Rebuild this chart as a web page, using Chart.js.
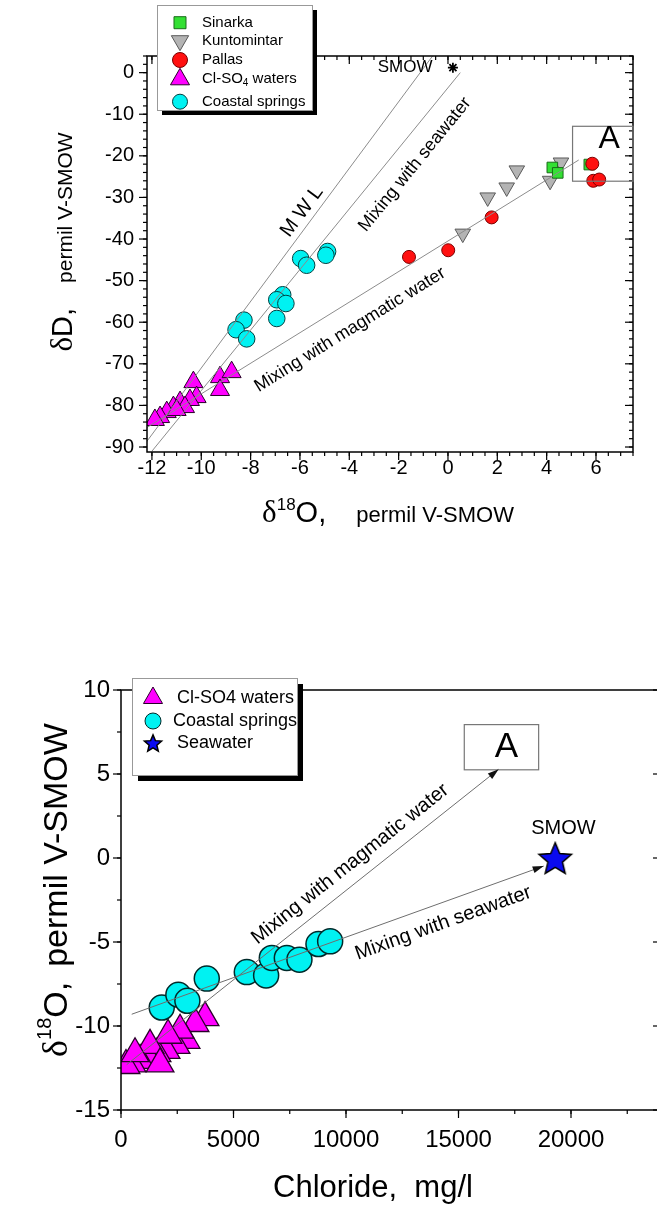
<!DOCTYPE html>
<html><head><meta charset="utf-8">
<script src="https://cdn.jsdelivr.net/npm/chart.js@4.4.0/dist/chart.umd.min.js"></script>
<style>
html,body{margin:0;padding:0;background:#fff;overflow:hidden;width:657px;height:1206px}
#c1{position:absolute;left:0;top:0}
#c2{position:absolute;left:0;top:600px}
</style></head><body>
<canvas id="c1" width="657" height="600"></canvas>
<canvas id="c2" width="690" height="606"></canvas>
<script>
// ---- top chart: dD vs d18O ----
const sinarkaO = [4.23, 4.45, 5.73];
const sinarkaD = [-22.8, -24.1, -22.1];
const kuntoO = [4.58, 4.14, 2.79, 2.38, 1.61, 0.60];
const kuntoD = [-21.6, -26.0, -23.5, -27.6, -30.0, -38.7];
const pallasO = [5.85, 5.89, 6.13, 1.77, 0.01, -1.58];
const pallasD = [-21.9, -26.0, -25.7, -34.8, -42.7, -44.3];
const clso4O = [-10.32, -10.19, -10.46, -9.24, -8.77, -9.24, -10.86, -11.13, -11.40, -11.67, -11.88, -10.66, -11.00];
const clso4D = [-74.4, -78.0, -78.7, -73.2, -72.0, -76.3, -79.2, -80.4, -81.6, -82.8, -83.5, -80.4, -81.1];
const coastO = [-5.97, -5.73, -4.88, -4.95, -6.70, -6.94, -6.57, -6.94, -8.27, -8.59, -8.16];
const coastD = [-44.7, -46.3, -43.0, -43.9, -53.4, -54.6, -55.5, -59.1, -59.5, -61.8, -64.0];
const smowO = [0.2], smowD = [1.2];
const mwlO = [-12.5, -0.625], mwlD = [-91, 4];
const seaO = [-12.0, 0.5], seaD = [-91, 0];
const magO = [-12.2, 5.3], magD = [-85.3, -21.0];
const topXTicks = [-12, -10, -8, -6, -4, -2, 0, 2, 4, 6];
const topYTicks = [0, -10, -20, -30, -40, -50, -60, -70, -80, -90];

// ---- bottom chart: d18O vs chloride ----
const botClCl = [3736, 3291, 2891, 2446, 2002, 1601, 1201, 845, 489, 222, 2624, 2090, 1290, 623, 1735];
const botClO = [-9.5, -9.85, -10.85, -11.15, -11.45, -11.65, -11.85, -12.05, -12.25, -12.35, -10.25, -10.55, -11.15, -11.65, -12.25];
const botCoastCl = [1810, 2549, 2950, 3812, 5591, 6450, 6703, 7370, 7931, 8776, 9296];
const botCoastO = [-8.9, -8.14, -8.5, -7.18, -6.79, -6.99, -5.95, -5.95, -6.05, -5.12, -4.96];
const seawaterCl = [19300], seawaterO = [0];
const botMagCl = [253, 16783], botMagO = [-12.3, 5.28];
const botSeaCl = [476, 18785], botSeaO = [-9.3, -0.48];
const botXTicks = [0, 5000, 10000, 15000, 20000];
const botYTicks = [-15, -10, -5, 0, 5, 10];

const FONT = 'Arial, "Liberation Sans", sans-serif';
Chart.defaults.font.family = FONT;
Chart.defaults.color = '#000';
Chart.defaults.animation = false;

const pts = (xs, ys) => xs.map((x, i) => ({x, y: ys[i]}));

function starCanvas(R, fill){
  const s = Math.ceil(R * 2 + 4), c = document.createElement('canvas');
  c.width = c.height = s;
  const g = c.getContext('2d');
  g.translate(s / 2, s / 2 + R * 0.1);
  g.beginPath();
  for(let i = 0; i < 10; i++){
    const r = i % 2 ? R * 0.45 : R, a = -Math.PI / 2 + i * Math.PI / 5;
    g.lineTo(r * Math.cos(a), r * Math.sin(a));
  }
  g.closePath(); g.fillStyle = fill; g.fill();
  g.lineWidth = 1.5; g.strokeStyle = '#000'; g.stroke();
  return c;
}
const starBig = starCanvas(17, '#0a0af0'), starSmall = starCanvas(9, '#0a0af0');

function marker(label, data, style, r, bg, bd, order, rot){
  return {label, data, pointStyle: style, pointRadius: r, pointHoverRadius: r, rotation: rot || 0,
    backgroundColor: bg, borderColor: bd, pointBorderWidth: 1, borderWidth: 1, showLine: false, order, clip: 0};
}
function guide(label, data, color, arrow){
  return {label, data, showLine: true, pointRadius: 0, borderColor: color, borderWidth: 1, order: 0, clip: 0, arrow};
}

function rich(ctx, parts, cx, cy, rot){
  ctx.save(); ctx.translate(cx, cy); ctx.rotate(rot || 0);
  ctx.textAlign = 'left'; ctx.textBaseline = 'alphabetic'; ctx.fillStyle = '#000';
  const f = p => p[1] + 'px ' + (p[3] || FONT);
  let w = 0;
  parts.forEach(p => { if(typeof p === 'number'){ w += p; return; } ctx.font = f(p); w += ctx.measureText(p[0]).width; });
  let x = -w / 2;
  parts.forEach(p => {
    if(typeof p === 'number'){ x += p; return; }
    ctx.font = f(p); ctx.fillText(p[0], x, -(p[2] || 0)); x += ctx.measureText(p[0]).width;
  });
  ctx.restore();
}
function rangeStep(a, b, st){ const r = []; for(let v = Math.ceil(a / st) * st; v <= b + 1e-9; v += st) r.push(+v.toFixed(6)); return r; }

const deco = {
  id: 'deco',
  afterDatasetsDraw(chart, args, o){
    const {ctx, chartArea: a, scales: {x: sx, y: sy}} = chart;
    ctx.save();
    ctx.strokeStyle = '#000'; ctx.lineWidth = 1.5;
    ctx.strokeRect(a.left, a.top, a.right - a.left, a.bottom - a.top);
    // tick marks
    ctx.lineWidth = 1.2;
    const seg = (x1, y1, x2, y2) => { ctx.beginPath(); ctx.moveTo(x1, y1); ctx.lineTo(x2, y2); ctx.stroke(); };
    [['x', o.ticks.x], ['y', o.ticks.y]].forEach(([ax, t]) => {
      const s = ax === 'x' ? sx : sy;
      [[rangeStep(s.min, s.max, t.minor), 4], [t.major, 8]].forEach(([vals, len]) => {
        vals.forEach(v => {
          const p = s.getPixelForValue(v);
          if(ax === 'x'){
            if(t.bottom) seg(p, a.bottom, p, a.bottom + (t.bottom === 'out' ? len : -len));
            if(t.top) seg(p, a.top, p, a.top + (t.top === 'out' ? -len : len));
          } else {
            if(t.left) seg(a.left, p, a.left + (t.left === 'out' ? -len : len), p);
            if(t.right) seg(a.right, p, a.right + (t.right === 'out' ? len : -len), p);
          }
        });
      });
    });
    // A box
    const b = o.box;
    ctx.strokeStyle = '#777'; ctx.lineWidth = 1.2;
    const bx1 = sx.getPixelForValue(b.x[0]), bx2 = sx.getPixelForValue(b.x[1]);
    const by1 = sy.getPixelForValue(b.y[1]), by2 = sy.getPixelForValue(b.y[0]);
    ctx.strokeRect(bx1, by1, bx2 - bx1, by2 - by1);
    // arrows
    chart.data.datasets.forEach(ds => {
      if(!ds.arrow) return;
      const d = ds.data, n = d.length;
      const x1 = sx.getPixelForValue(d[n - 2].x), y1 = sy.getPixelForValue(d[n - 2].y);
      const x2 = sx.getPixelForValue(d[n - 1].x), y2 = sy.getPixelForValue(d[n - 1].y);
      const an = Math.atan2(y2 - y1, x2 - x1);
      ctx.save(); ctx.translate(x2, y2); ctx.rotate(an);
      ctx.fillStyle = '#111'; ctx.beginPath(); ctx.moveTo(0, 0); ctx.lineTo(-11, -3.5); ctx.lineTo(-11, 3.5); ctx.closePath(); ctx.fill();
      ctx.restore();
    });
    // texts in data space
    o.texts.forEach(t => {
      let ang = 0;
      if(t.along !== undefined){
        const d = chart.data.datasets[t.along].data;
        ang = Math.atan2(sy.getPixelForValue(d[1].y) - sy.getPixelForValue(d[0].y), sx.getPixelForValue(d[1].x) - sx.getPixelForValue(d[0].x));
      }
      ctx.save(); ctx.translate(sx.getPixelForValue(t.x), sy.getPixelForValue(t.y)); ctx.rotate(ang);
      ctx.font = t.size + 'px ' + FONT; ctx.fillStyle = '#000'; ctx.textAlign = 'center'; ctx.textBaseline = 'middle';
      ctx.fillText(t.text, 0, 0); ctx.restore();
    });
    // axis titles
    o.titles.forEach(t => rich(ctx, t.parts, t.x, t.y, t.rot));
    // legend
    const L = o.legend;
    ctx.fillStyle = '#000'; ctx.fillRect(L.x + L.shadow, L.y + L.shadow, L.w, L.h);
    ctx.fillStyle = '#fff'; ctx.fillRect(L.x, L.y, L.w, L.h);
    ctx.strokeStyle = '#999'; ctx.lineWidth = 1; ctx.strokeRect(L.x + 0.5, L.y + 0.5, L.w, L.h);
    L.items.forEach(it => {
      const ds = chart.data.datasets[it.ds];
      ctx.fillStyle = ds.backgroundColor; ctx.strokeStyle = ds.borderColor; ctx.lineWidth = 1;
      Chart.helpers.drawPoint(ctx, {pointStyle: it.style || ds.pointStyle, radius: it.r, rotation: ds.rotation, borderWidth: 1}, L.mx, it.y);
      ctx.fillStyle = '#000'; ctx.textBaseline = 'middle'; ctx.textAlign = 'left';
      let x = L.tx + (it.dx || 0);
      (it.parts || [[ds.label, 0, 0]]).forEach(p => {
        ctx.font = (p[1] || L.size) + 'px ' + FONT;
        ctx.fillText(p[0], x, it.y + (p[2] || 0));
        x += ctx.measureText(p[0]).width;
      });
    });
    ctx.restore();
  }
};

const serif = '"Liberation Serif", "Times New Roman", serif';

new Chart(document.getElementById('c1'), {
  type: 'scatter',
  data: {datasets: [
    marker('Sinarka', pts(sinarkaO, sinarkaD), 'rect', 7.5, '#33e033', '#1a6b1a', 2),
    marker('Kuntomintar', pts(kuntoO, kuntoD), 'triangle', 9, '#b4b4b4', '#5a5a5a', 3, 180),
    marker('Pallas', pts(pallasO, pallasD), 'circle', 6.5, '#ff1010', '#7a0000', 1),
    marker('Cl-SO4 waters', pts(clso4O, clso4D), 'triangle', 11, '#ff00ff', '#2a002a', 4),
    marker('Coastal springs', pts(coastO, coastD), 'circle', 8.3, '#00f2f2', '#004040', 5),
    Object.assign(marker('SMOW', pts(smowO, smowD), 'star', 5, '#000', '#000', 1), {pointBorderWidth: 1.8}),
    guide('MWL', pts(mwlO, mwlD), '#8c8c8c'),
    guide('seawater', pts(seaO, seaD), '#8c8c8c'),
    guide('magmatic', pts(magO, magD), '#8c8c8c')
  ]},
  options: {
    responsive: false,
    layout: {padding: {top: 56, right: 24, left: 0, bottom: 0}},
    plugins: {
      legend: {display: false}, tooltip: {enabled: false},
      deco: {
        ticks: {
          x: {major: topXTicks, minor: 0.5, bottom: 'out', top: 'in'},
          y: {major: topYTicks, minor: 2, left: 'out', right: 'in'}
        },
        box: {x: [5.05, 7.5], y: [-26.1, -12.9]},
        texts: [
          {text: 'SMOW', x: -1.74, y: 1.2, size: 17},
          {text: 'M W L', x: -5.92, y: -33.4, size: 20, along: 6},
          {text: 'Mixing with seawater', x: -1.34, y: -22.1, size: 18, along: 7},
          {text: 'Mixing with magmatic water', x: -3.97, y: -61.8, size: 18, along: 8},
          {text: 'A', x: 6.53, y: -16.1, size: 32}
        ],
        titles: [
          {parts: [['δ', 31, 0, serif], ['18', 17, 12], ['O,', 29], 30, ['permil V-SMOW', 22]], x: 388, y: 522, rot: 0},
          {parts: [['δ', 31, 0, serif], ['D,', 29], 25, ['permil V-SMOW', 21]], x: 72, y: 242, rot: -Math.PI / 2}
        ],
        legend: {x: 157, y: 5, w: 155, h: 105, shadow: 5, mx: 180, tx: 202, size: 15, items: [
          {ds: 0, y: 22.7, r: 8.5},
          {ds: 1, y: 40.7, r: 10},
          {ds: 2, y: 60, r: 7.5},
          {ds: 3, y: 79.3, r: 11, parts: [['Cl-SO', 15, 0], ['4', 10, 4], [' waters', 15, 0]]},
          {ds: 4, y: 101.7, r: 7.5}
        ]}
      }
    },
    scales: {
      x: {type: 'linear', min: -12.2, max: 7.5,
        grid: {display: false, drawTicks: false}, border: {display: false},
        afterBuildTicks: s => { s.ticks = topXTicks.map(v => ({value: v})); },
        afterFit: s => { s.height = 148; },
        ticks: {padding: 4, font: {size: 20}, maxRotation: 0, autoSkip: false, callback: v => String(v)}},
      y: {type: 'linear', min: -91.2, max: 4,
        grid: {display: false, drawTicks: false}, border: {display: false},
        afterBuildTicks: s => { s.ticks = topYTicks.map(v => ({value: v})); },
        afterFit: s => { s.width = 147; },
        ticks: {padding: 13, font: {size: 20}, autoSkip: false, callback: v => String(v)}}
    }
  },
  plugins: [deco]
});

new Chart(document.getElementById('c2'), {
  type: 'scatter',
  data: {datasets: [
    Object.assign(marker('Cl-SO4 waters', pts(botClCl, botClO), 'triangle', 16, '#ff00ff', '#2a002a', 2), {pointBorderWidth: 1.3}),
    Object.assign(marker('Coastal springs', pts(botCoastCl, botCoastO), 'circle', 12.5, '#00f2f2', '#002a2a', 1), {pointBorderWidth: 1.5}),
    marker('Seawater', pts(seawaterCl, seawaterO), starBig, 17, '#0a0af0', '#000', 1),
    guide('magmatic', pts(botMagCl, botMagO), '#6e6e6e', true),
    guide('seawater', pts(botSeaCl, botSeaO), '#6e6e6e', true)
  ]},
  options: {
    responsive: false,
    layout: {padding: {top: 90, right: 29, left: 0, bottom: 0}},
    plugins: {
      legend: {display: false}, tooltip: {enabled: false},
      deco: {
        ticks: {
          x: {major: botXTicks, minor: 2500, bottom: 'out'},
          y: {major: botYTicks, minor: 2.5, left: 'out', right: 'in'}
        },
        box: {x: [15257, 18562], y: [5.25, 7.94]},
        texts: [
          {text: 'SMOW', x: 19660, y: 1.73, size: 20},
          {text: 'Mixing with magmatic water', x: 10186, y: -0.36, size: 20, along: 3},
          {text: 'Mixing with seawater', x: 14323, y: -3.88, size: 20, along: 4},
          {text: 'A', x: 17125, y: 6.57, size: 35}
        ],
        titles: [
          {parts: [['Chloride,  mg/l', 31]], x: 373, y: 597, rot: 0},
          {parts: [['δ', 36, 0, serif], ['18', 20, 16], ['O,', 34], 15, ['permil V-SMOW', 34]], x: 67, y: 290, rot: -Math.PI / 2}
        ],
        legend: {x: 132, y: 78, w: 165, h: 97, shadow: 6, mx: 153, tx: 177, size: 18, items: [
          {ds: 0, y: 98, r: 11},
          {ds: 1, y: 121, r: 8, dx: -4},
          {ds: 2, y: 143, r: 9, style: starSmall}
        ]}
      }
    },
    scales: {
      x: {type: 'linear', min: 0, max: 24000,
        grid: {display: false, drawTicks: false}, border: {display: false},
        afterBuildTicks: s => { s.ticks = botXTicks.map(v => ({value: v})); },
        afterFit: s => { s.height = 96; },
        ticks: {padding: 16, font: {size: 24}, maxRotation: 0, autoSkip: false, callback: v => String(v)}},
      y: {type: 'linear', min: -15, max: 10,
        grid: {display: false, drawTicks: false}, border: {display: false},
        afterBuildTicks: s => { s.ticks = botYTicks.map(v => ({value: v})); },
        afterFit: s => { s.width = 121; },
        ticks: {padding: 11, font: {size: 24}, autoSkip: false, callback: v => String(v)}}
    }
  },
  plugins: [deco]
});
</script>
</body></html>
